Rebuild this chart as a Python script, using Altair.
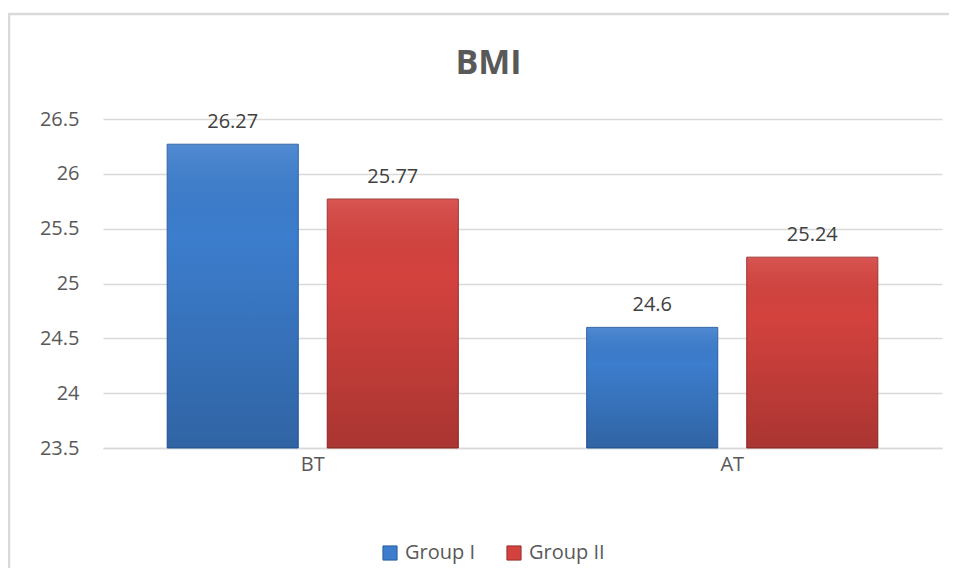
import altair as alt
import pandas as pd

categories = ["BT", "AT"]
groups = ["Group I", "Group II"]
group_i = [26.27, 24.6]
group_ii = [25.77, 25.24]
y_ticks = [23.5, 24, 24.5, 25, 25.5, 26, 26.5]
colors = ["#3c7dcd", "#d4423e"]
edge_colors = ["#2b5e9e", "#96302d"]

rows = []
for i, c in enumerate(categories):
    rows.append({"time": c, "group": groups[0], "bmi": group_i[i]})
    rows.append({"time": c, "group": groups[1], "bmi": group_ii[i]})
df = pd.DataFrame(rows)

FONT = "Open Sans"
W, H = 839, 329

x_enc = alt.X("time:N", sort=categories, title=None,
              scale=alt.Scale(paddingInner=0.306, paddingOuter=0.153),
              axis=alt.Axis(labelAngle=0, labelFontSize=20, labelColor="#595959",
                            labelFont=FONT, ticks=False, domainColor="#d9d9d9",
                            domainWidth=1.5, labelPadding=6, grid=False))
xo_enc = alt.XOffset("group:N", sort=groups,
                     scale=alt.Scale(paddingInner=0.181, paddingOuter=0))
y_enc = alt.Y("bmi:Q", title=None,
              scale=alt.Scale(domain=[23.5, 26.5], zero=False, nice=False),
              axis=alt.Axis(values=y_ticks, labelFontSize=20, labelColor="#595959",
                            labelFont=FONT, ticks=False, domain=False, grid=True,
                            gridColor="#d9d9d9", gridWidth=1.5, labelPadding=24,
                            labelExpr="datum.value"))

frame = alt.Chart(pd.DataFrame({"a": [0]})).mark_rect(
    fill="transparent", stroke="#d9d9d9", strokeWidth=2.5
).encode(x=alt.value(-94), x2=alt.value(900), y=alt.value(-105), y2=alt.value(520))

base = alt.Chart(df)

bars = base.mark_bar(strokeWidth=1).encode(
    x=x_enc, xOffset=xo_enc, y=y_enc, y2=alt.datum(23.5),
    color=alt.Color("group:N", sort=groups,
                    scale=alt.Scale(domain=groups, range=colors),
                    legend=alt.Legend(title=None, orient="none", direction="horizontal",
                                      legendX=277, legendY=424,
                                      labelFontSize=20, labelColor="#595959", labelFont=FONT,
                                      symbolType="square", symbolSize=200,
                                      symbolStrokeWidth=1, symbolOpacity=1,
                                      labelOffset=5, columnPadding=28)),
    stroke=alt.Stroke("group:N", sort=groups,
                      scale=alt.Scale(domain=groups, range=edge_colors), legend=None),
)

shade = base.mark_bar(
    color=alt.Gradient(gradient="linear", x1=0, x2=0, y1=0, y2=1,
                       stops=[alt.GradientStop(color="rgba(255,255,255,0.10)", offset=0),
                              alt.GradientStop(color="rgba(0,0,0,0.0)", offset=0.3),
                              alt.GradientStop(color="rgba(0,0,0,0.20)", offset=1)])
).encode(x=x_enc, xOffset=xo_enc, y=y_enc, y2=alt.datum(23.5))

labels = base.mark_text(
    baseline="alphabetic", dy=-16, fontSize=20, color="#404040", font=FONT
).encode(x=x_enc, xOffset=xo_enc, y=y_enc, text=alt.Text("bmi:Q"))

chart = alt.layer(frame, bars, shade, labels).properties(
    width=W, height=H,
    title=alt.TitleParams("BMI", fontSize=34, fontWeight="bold", color="#595959",
                          font=FONT, anchor="middle", frame="group", dx=-34,
                          baseline="alphabetic", offset=20, dy=115),
    autosize=alt.AutoSizeParams(type="none"),
    padding={"left": 95, "top": 111, "right": 7, "bottom": 120},
).configure(background="white").configure_view(stroke=None)

chart.save("out.html", embed_options={"renderer": "svg", "actions": False})
